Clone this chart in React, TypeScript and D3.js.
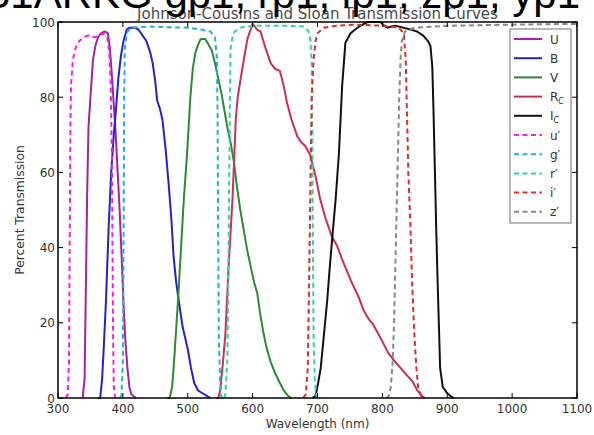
import * as d3 from "d3";
import React from "react";

type Pt = [number, number];

// wavelength (nm), percent transmission
const curveU: Pt[] = [[338,0],[341,5],[343,30],[345,55],[347,72],[350,80],[354,90],[358,94],[362,96],[366,97],[372,97.5],[377,97],[380,93],[383,86],[386,78],[389,70],[392,60],[395,50],[398,38],[401,25],[404,15],[407,8],[410,3],[413,1],[420,0]];
const curveB: Pt[] = [[362,0],[365,0],[368,5],[371,15],[374,26],[378,45],[382,60],[386,70],[389,76],[393,85],[397,91],[401,95],[406,98],[410,98.5],[418,98.5],[424,98],[430,96.5],[436,95],[442,92],[446,89],[450,84],[453,79],[457,77],[461,74],[466,66],[471,56],[475,47],[478,38],[482,31],[486,26],[492,19],[500,13],[505,8],[510,4],[516,2],[525,1],[535,0]];
const curveV: Pt[] = [[468,0],[472,0],[476,3],[479,10],[482,18],[485,26],[489,38],[494,53],[499,65],[504,80],[508,88],[512,92],[516,94],[520,95.5],[527,95.5],[532,94],[537,92.5],[542,89],[547,85],[552,81],[557,76],[561,72],[566,68],[571,63],[576,56],[581,50],[586,45],[592,39],[597,35],[602,31],[607,28],[612,22],[617,17],[622,13],[628,9.5],[635,6.5],[642,4],[648,2],[655,0.5],[660,0]];
const curveRc: Pt[] = [[544,0],[547,0],[550,2],[554,9],[558,17],[563,35],[569,53],[574,74],[577,80],[584,87.5],[592,95.5],[600,99.5],[607,98],[612,97.5],[620,93],[628,89],[635,87.5],[642,87],[648,83],[653,78.5],[660,74],[669,69.5],[675,68],[681,67],[689,64.5],[697,59],[704,53],[712,48],[722,43],[730,40.5],[740,36],[752,31],[763,27],[772,23],[779,21],[786,19.5],[797,16],[809,12],[818,10],[828,8],[838,6],[846,4.5],[854,2],[861,0.5],[866,0]];
const curveIc: Pt[] = [[692,0],[697,0.5],[701,4],[705,8],[710,17],[715,26],[719,35],[723,43],[728,53],[733,65],[738,83],[743,94.5],[751,97],[758,98],[766,99],[777,100],[790,100],[797,100],[803,99],[808,98.5],[814,98.8],[820,99],[832,98.5],[843,98],[853,97.5],[863,96.4],[870,95],[874,93.7],[877,88],[879,75],[881,60],[883,45],[885,32],[887,20],[889,8],[893,3],[899,1.5],[905,0.5],[910,0]];
const curveUp: Pt[] = [[312,0],[315,1],[317,10],[318,40],[319,70],[320,83],[323,90],[327,93],[333,95],[340,96],[346,96.4],[352,96],[358,96],[364,96.5],[370,97],[376,96],[379,92],[381,85],[383,65],[384,40],[385,15],[386,3],[388,0]];
const curveGp: Pt[] = [[396,0],[398,1],[400,10],[401,40],[402,80],[403,93],[406,97],[412,98.5],[440,98.8],[470,98.6],[500,98.5],[520,98],[535,97.5],[542,96],[545,90],[546,75],[547,40],[548,15],[550,4],[552,0]];
const curveRp: Pt[] = [[556,0],[558,1],[561,10],[563,40],[565,80],[566,93],[570,97],[580,98.5],[600,99],[650,99],[680,98.8],[688,97],[691,90],[692,70],[693,40],[694,15],[696,4],[699,0]];
const curveIp: Pt[] = [[678,0],[682,1],[685,8],[687,30],[689,55],[691,80],[694,90],[697,95],[700,97],[710,98.5],[730,99],[760,99.3],[800,99],[825,98.5],[833,97],[836,90],[838,75],[840,60],[843,47],[846,30],[849,18],[852,9],[855,3],[860,0.5],[865,0]];
const curveZp: Pt[] = [[806,0],[810,0.5],[813,3],[816,10],[818,20],[820,35],[822,50],[824,65],[826,80],[828,90],[830,95],[835,97.5],[850,98.5],[900,99],[1000,99.3],[1100,99.5]];

const seriesNames = ["U", "B", "V", "Rc", "Ic", "u'", "g'", "r'", "i'", "z'"];
const seriesData = [curveU, curveB, curveV, curveRc, curveIc, curveUp, curveGp, curveRp, curveIp, curveZp];
const seriesColors = ["#a3239f", "#2222d2", "#2f8a34", "#cc2f55", "#111111", "#ee22ee", "#25b0d0", "#2ad8a0", "#e02c2c", "#888888"];
const seriesDashed = [false, false, false, false, false, true, true, true, true, true];

const xTicks = [300, 400, 500, 600, 700, 800, 900, 1000, 1100];
const yTicks = [0, 20, 40, 60, 80, 100];

const W = 594, H = 435;
const left = 58, right = 577, top = 22, bottom = 398;
const font = "'DejaVu Sans', sans-serif";

export default function App() {
  const x = d3.scaleLinear().domain([300, 1100]).range([left, right]);
  const y = d3.scaleLinear().domain([0, 100]).range([bottom, top]);
  const line = d3.line<Pt>().x(d => x(d[0])).y(d => y(d[1])).curve(d3.curveLinear);

  const legX = 510, legY = 29, legW = 61, legH = 194, legStep = 19.2;

  const label = (name: string) => {
    if (name === "Rc" || name === "Ic")
      return (<>{name[0]}<tspan fontSize={8} dy={3} fontStyle="italic">C</tspan></>);
    if (name.endsWith("'")) return name[0] + "\u2032";
    return name;
  };

  return (
    <svg width={W} height={H} style={{ position: "absolute", left: 0, top: 0, background: "#fff" }}>
      <rect x={left} y={top} width={right - left} height={bottom - top} fill="#fff" />
      <g>
        {seriesData.map((d, i) => (
          <path key={i} d={line(d) || ""} fill="none" stroke={seriesColors[i]}
            strokeWidth={2} strokeDasharray={seriesDashed[i] ? "5,3.5" : undefined}
            strokeLinejoin="round" />
        ))}
      </g>
      {/* frame and inward ticks */}
      <rect x={left} y={top} width={right - left} height={bottom - top} fill="none" stroke="#000" strokeWidth={1.5} />
      {xTicks.map(t => (
        <g key={"x" + t}>
          <line x1={x(t)} x2={x(t)} y1={bottom} y2={bottom - 5} stroke="#000" />
          <line x1={x(t)} x2={x(t)} y1={top} y2={top + 5} stroke="#000" />
          <text x={x(t)} y={413} textAnchor="middle" fontSize={12} fill="#333" fontFamily={font}>{t}</text>
        </g>
      ))}
      {yTicks.map(t => (
        <g key={"y" + t}>
          <line x1={left} x2={left + 5} y1={y(t)} y2={y(t)} stroke="#000" />
          <line x1={right} x2={right - 5} y1={y(t)} y2={y(t)} stroke="#000" />
          <text x={left - 3} y={y(t) + 4.5} textAnchor="end" fontSize={12} fill="#333" fontFamily={font}>{t}</text>
        </g>
      ))}
      <text x={(left + right) / 2} y={428} textAnchor="middle" fontSize={12} fill="#333" fontFamily={font}>Wavelength (nm)</text>
      <text transform={`translate(24,${(top + bottom) / 2}) rotate(-90)`} textAnchor="middle" fontSize={12.3} fill="#333" fontFamily={font}>Percent Transmission</text>
      <text x={(left + right) / 2} y={18.5} textAnchor="middle" fontSize={15} fill="#4a4a4a" fontFamily={font}>Johnson-Cousins and Sloan Transmission Curves</text>

      {/* legend */}
      <rect x={legX} y={legY} width={legW} height={legH} fill="#fff" stroke="#888" strokeWidth={1.2} />
      {seriesNames.map((n, i) => {
        const ly = legY + 10 + i * legStep;
        return (
          <g key={n}>
            <line x1={legX + 4} x2={legX + 32} y1={ly} y2={ly} stroke={seriesColors[i]} strokeWidth={2}
              strokeDasharray={seriesDashed[i] ? "5,3.5" : undefined} />
            <text x={legX + 40} y={ly + 4.5} fontSize={12} fill="#333" fontFamily={font}>{label(n)}</text>
          </g>
        );
      })}

      <text x={580} y={8} textAnchor="end" fontSize={42} fill="#000" fontFamily="'Liberation Sans', Arial, sans-serif">PS1ARKG gp1, rp1, ip1, zp1, yp1</text>
    </svg>
  );
}
